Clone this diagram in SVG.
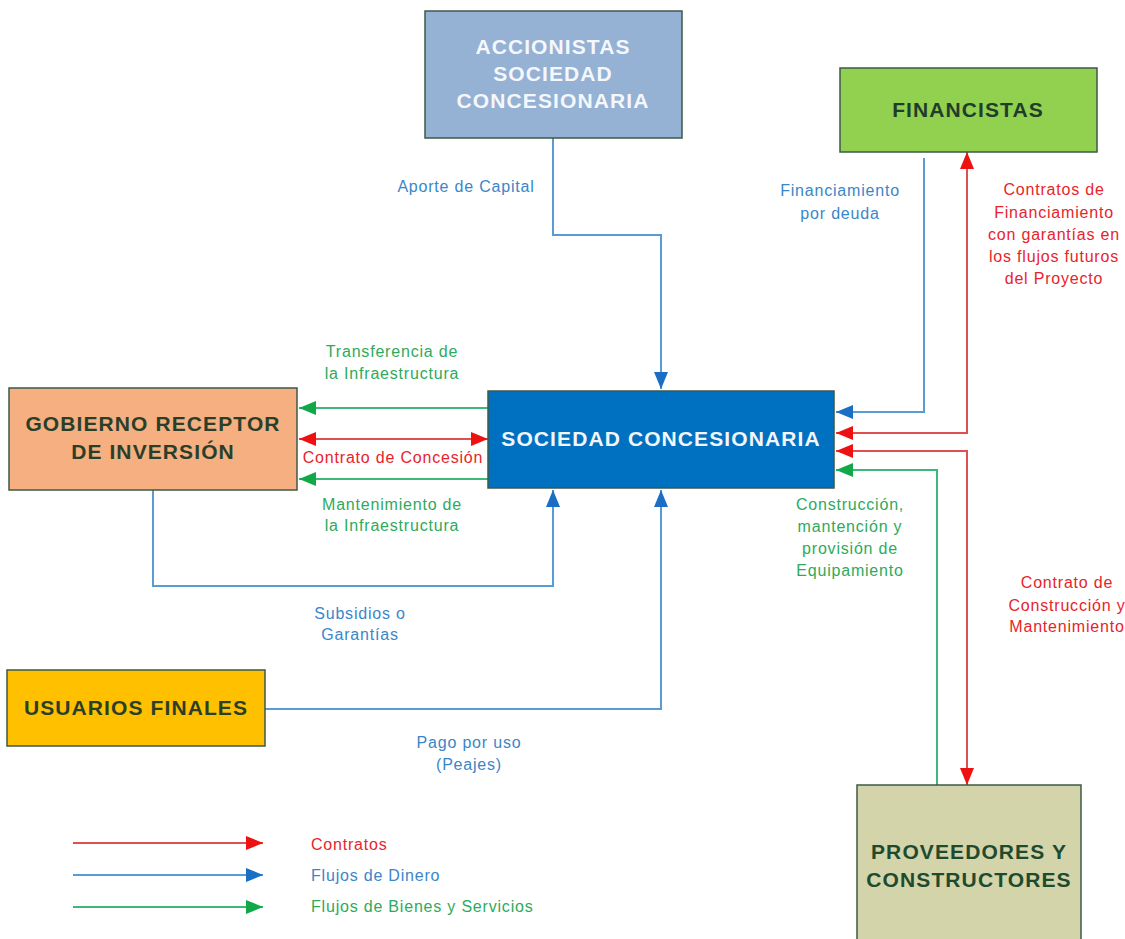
<svg xmlns="http://www.w3.org/2000/svg" width="1125" height="939" viewBox="0 0 1125 939">
<defs>
<marker id="ar" markerUnits="userSpaceOnUse" markerWidth="18" markerHeight="14" refX="17" refY="7" orient="auto-start-reverse"><path d="M0,0 L17,7 L0,14 z" fill="#ee1111"/></marker>
<marker id="ab" markerUnits="userSpaceOnUse" markerWidth="18" markerHeight="14" refX="17" refY="7" orient="auto-start-reverse"><path d="M0,0 L17,7 L0,14 z" fill="#1a6fc4"/></marker>
<marker id="ag" markerUnits="userSpaceOnUse" markerWidth="18" markerHeight="14" refX="17" refY="7" orient="auto-start-reverse"><path d="M0,0 L17,7 L0,14 z" fill="#11a84a"/></marker>
</defs>
<style>
.box{stroke:#3d5a48;stroke-width:1.5}
.nt{font-family:"Liberation Sans",Arial,sans-serif;font-weight:bold;font-size:21px;letter-spacing:1.1px;text-anchor:middle}
.lb{font-family:"Liberation Sans",Arial,sans-serif;font-size:16px;letter-spacing:0.8px;text-anchor:middle}
.r{fill:none;stroke:#e05050;stroke-width:2}
.b{fill:none;stroke:#5b9bd5;stroke-width:2}
.g{fill:none;stroke:#3cb878;stroke-width:2}
.tr{fill:#e8242a}.tb{fill:#3a86c8}.tg{fill:#2eaa5c}
</style>
<rect width="1125" height="939" fill="#ffffff"/>
<g id="connectors">
<path class="b" d="M553,138 V235 H661 V389" marker-end="url(#ab)"/>
<path class="b" d="M924,158 V412 H836" marker-end="url(#ab)"/>
<path class="r" d="M967,152 V433 H836" marker-start="url(#ar)" marker-end="url(#ar)"/>
<path class="r" d="M836,451 H967 V785" marker-start="url(#ar)" marker-end="url(#ar)"/>
<path class="g" d="M937,785 V470 H836" marker-end="url(#ag)"/>
<path class="g" d="M488,408 H299" marker-end="url(#ag)"/>
<path class="r" d="M299,439 H488" marker-start="url(#ar)" marker-end="url(#ar)"/>
<path class="g" d="M488,479 H299" marker-end="url(#ag)"/>
<path class="b" d="M153,490 V586 H553 V490" marker-end="url(#ab)"/>
<path class="b" d="M265,709 H661 V490" marker-end="url(#ab)"/>
<path class="r" d="M73,843 H263" marker-end="url(#ar)"/>
<path class="b" d="M73,875 H263" marker-end="url(#ab)"/>
<path class="g" d="M73,907 H263" marker-end="url(#ag)"/>
</g>
<g id="labels">
<text class="lb tb" x="466" y="192">Aporte de Capital</text>
<text class="lb tb" x="840" y="196">Financiamiento</text>
<text class="lb tb" x="840" y="219">por deuda</text>
<text class="lb tr" x="1054" y="195">Contratos de</text>
<text class="lb tr" x="1054" y="218">Financiamiento</text>
<text class="lb tr" x="1054" y="240">con garantías en</text>
<text class="lb tr" x="1054" y="262">los flujos futuros</text>
<text class="lb tr" x="1054" y="284">del Proyecto</text>
<text class="lb tg" x="392" y="357">Transferencia de</text>
<text class="lb tg" x="392" y="379">la Infraestructura</text>
<text class="lb tr" x="393" y="463">Contrato de Concesión</text>
<text class="lb tg" x="392" y="510">Mantenimiento de</text>
<text class="lb tg" x="392" y="531">la Infraestructura</text>
<text class="lb tb" x="360" y="619">Subsidios o</text>
<text class="lb tb" x="360" y="640">Garantías</text>
<text class="lb tb" x="469" y="748">Pago por uso</text>
<text class="lb tb" x="469" y="770">(Peajes)</text>
<text class="lb tg" x="850" y="510">Construcción,</text>
<text class="lb tg" x="850" y="532">mantención y</text>
<text class="lb tg" x="850" y="554">provisión de</text>
<text class="lb tg" x="850" y="576">Equipamiento</text>
<text class="lb tr" x="1067" y="588">Contrato de</text>
<text class="lb tr" x="1067" y="611">Construcción y</text>
<text class="lb tr" x="1067" y="632">Mantenimiento</text>
<text class="lb tr" x="311" y="850" style="text-anchor:start">Contratos</text>
<text class="lb tb" x="311" y="881" style="text-anchor:start">Flujos de Dinero</text>
<text class="lb tg" x="311" y="912" style="text-anchor:start">Flujos de Bienes y Servicios</text>
</g>
<g id="accionistas">
<rect class="box" x="425" y="11" width="257" height="127" fill="#95b1d4"/>
<text class="nt" x="553" y="54" fill="#f4f7fb">ACCIONISTAS</text>
<text class="nt" x="553" y="81" fill="#f4f7fb">SOCIEDAD</text>
<text class="nt" x="553" y="108" fill="#f4f7fb">CONCESIONARIA</text>
</g>
<g id="financistas">
<rect class="box" x="840" y="68" width="257" height="84" fill="#92d050"/>
<text class="nt" x="968" y="117" fill="#1f3d2a">FINANCISTAS</text>
</g>
<g id="gobierno">
<rect class="box" x="9" y="388" width="288" height="102" fill="#f5af80"/>
<text class="nt" x="153" y="431" fill="#2a3f2a">GOBIERNO RECEPTOR</text>
<text class="nt" x="153" y="459" fill="#2a3f2a">DE INVERSIÓN</text>
</g>
<g id="sociedad">
<rect class="box" x="488" y="391" width="346" height="97" fill="#0070c0"/>
<text class="nt" x="661" y="446" fill="#f2f6fb">SOCIEDAD CONCESIONARIA</text>
</g>
<g id="usuarios">
<rect class="box" x="7" y="670" width="258" height="76" fill="#ffc000"/>
<text class="nt" x="136" y="715" fill="#2a3f2a">USUARIOS FINALES</text>
</g>
<g id="proveedores">
<rect class="box" x="857" y="785" width="224" height="160" fill="#d3d4a9"/>
<text class="nt" x="969" y="859" fill="#1f4a2e">PROVEEDORES Y</text>
<text class="nt" x="969" y="887" fill="#1f4a2e">CONSTRUCTORES</text>
</g>
</svg>
